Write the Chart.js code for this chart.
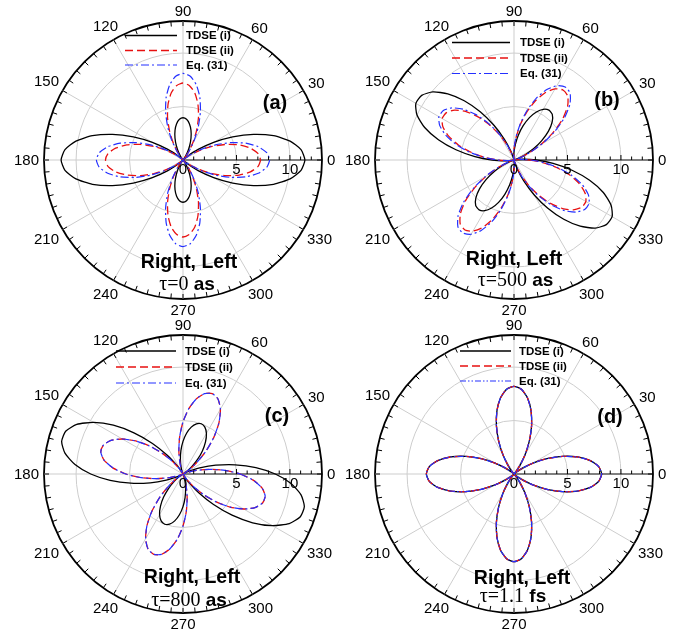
<!DOCTYPE html>
<html>
<head>
<meta charset="utf-8">
<script src="https://cdn.jsdelivr.net/npm/chart.js@4.4.1/dist/chart.umd.min.js"></script>
<style>
  html, body { margin: 0; padding: 0; background: #fff; }
  #fig { position: relative; width: 685px; height: 634px; overflow: hidden; background: #fff; }
  #fig canvas { position: absolute; }
</style>
</head>
<body>
<div id="fig"></div>
<script>
// Polar angles of the samples (degrees, counter-clockwise from the 0 axis)
const sampleAngles = Array.from({ length: 72 }, (_, i) => i * 5);
const angleTicks = [0, 30, 60, 90, 120, 150, 180, 210, 240, 270, 300, 330];
const radialTicks = [0, 5, 10, 13];
const radialLabels = [0, 5, 10];
const seriesNames = ['TDSE (i)', 'TDSE (ii)', 'Eq. (31)'];
const pulseLabel = 'Right, Left';

// (a) tau = 0 as
const tdse1A = [11.4, 11.08, 10.17, 8.77, 7.02, 5.13, 3.31, 1.73, 0.62, 0.05, 0.05, 0.33, 0.83, 1.47, 2.19, 2.88, 3.44, 3.82, 3.95, 3.82, 3.44, 2.88, 2.19, 1.47, 0.83, 0.33, 0.05, 0.05, 0.62, 1.73, 3.31, 5.13, 7.02, 8.77, 10.17, 11.08,
                11.4, 11.08, 10.17, 8.77, 7.02, 5.13, 3.31, 1.73, 0.62, 0.05, 0.05, 0.33, 0.83, 1.47, 2.19, 2.88, 3.44, 3.82, 3.95, 3.82, 3.44, 2.88, 2.19, 1.47, 0.83, 0.33, 0.05, 0.05, 0.62, 1.73, 3.31, 5.13, 7.02, 8.77, 10.17, 11.08];
const tdse2A = [7.25, 7.03, 6.40, 5.44, 4.26, 2.99, 1.81, 0.85, 0.22, 0, 0.22, 0.84, 1.80, 2.97, 4.23, 5.40, 6.36, 6.98, 7.2, 6.98, 6.36, 5.40, 4.23, 2.97, 1.80, 0.84, 0.22, 0, 0.22, 0.85, 1.81, 2.99, 4.26, 5.44, 6.40, 7.03,
                7.25, 7.03, 6.40, 5.44, 4.26, 2.99, 1.81, 0.85, 0.22, 0, 0.22, 0.84, 1.80, 2.97, 4.23, 5.40, 6.36, 6.98, 7.2, 6.98, 6.36, 5.40, 4.23, 2.97, 1.80, 0.84, 0.22, 0, 0.22, 0.85, 1.81, 2.99, 4.26, 5.44, 6.40, 7.03];
const eq31A = [8.1, 7.86, 7.15, 6.08, 4.75, 3.35, 2.03, 0.95, 0.24, 0, 0.24, 0.95, 2.03, 3.35, 4.75, 6.08, 7.15, 7.86, 8.1, 7.86, 7.15, 6.08, 4.75, 3.35, 2.03, 0.95, 0.24, 0, 0.24, 0.95, 2.03, 3.35, 4.75, 6.08, 7.15, 7.86,
               8.1, 7.86, 7.15, 6.08, 4.75, 3.35, 2.03, 0.95, 0.24, 0, 0.24, 0.95, 2.03, 3.35, 4.75, 6.08, 7.15, 7.86, 8.1, 7.86, 7.15, 6.08, 4.75, 3.35, 2.03, 0.95, 0.24, 0, 0.24, 0.95, 2.03, 3.35, 4.75, 6.08, 7.15, 7.86];

// (b) tau = 500 as
const tdse1B = [2.04, 0.81, 0.12, 0.03, 0.40, 1.12, 2.10, 3.17, 4.21, 5.05, 5.57, 5.69, 5.47, 4.96, 4.22, 3.32, 2.38, 1.48, 0.74, 0.23, 0.01, 0.19, 0.94, 2.16, 3.75, 5.51, 7.24, 8.76, 9.90, 10.54, 10.60, 10.02, 8.89, 7.32, 5.51, 3.67,
                2.04, 0.81, 0.12, 0.03, 0.40, 1.12, 2.10, 3.17, 4.21, 5.05, 5.57, 5.69, 5.47, 4.96, 4.22, 3.32, 2.38, 1.48, 0.74, 0.23, 0.01, 0.19, 0.94, 2.16, 3.75, 5.51, 7.24, 8.76, 9.90, 10.54, 10.60, 10.02, 8.89, 7.32, 5.51, 3.67];
const tdse2B = [1.50, 0.59, 0.09, 0.05, 0.56, 1.58, 2.94, 4.46, 5.91, 7.09, 7.82, 7.99, 7.68, 6.97, 5.92, 4.66, 3.34, 2.08, 1.03, 0.32, 0.01, 0.14, 0.69, 1.58, 2.75, 4.03, 5.30, 6.42, 7.25, 7.72, 7.76, 7.34, 6.51, 5.36, 4.03, 2.69,
                1.50, 0.59, 0.09, 0.05, 0.56, 1.58, 2.94, 4.46, 5.91, 7.09, 7.82, 7.99, 7.68, 6.97, 5.92, 4.66, 3.34, 2.08, 1.03, 0.32, 0.01, 0.14, 0.69, 1.58, 2.75, 4.03, 5.30, 6.42, 7.25, 7.72, 7.76, 7.34, 6.51, 5.36, 4.03, 2.69];
const eq31B = [1.56, 0.62, 0.09, 0.05, 0.58, 1.64, 3.07, 4.65, 6.17, 7.40, 8.16, 8.34, 8.02, 7.27, 6.18, 4.87, 3.48, 2.17, 1.08, 0.33, 0.01, 0.15, 0.72, 1.65, 2.87, 4.21, 5.54, 6.71, 7.58, 8.07, 8.11, 7.67, 6.81, 5.60, 4.21, 2.81,
               1.56, 0.62, 0.09, 0.05, 0.58, 1.64, 3.07, 4.65, 6.17, 7.40, 8.16, 8.34, 8.02, 7.27, 6.18, 4.87, 3.48, 2.17, 1.08, 0.33, 0.01, 0.15, 0.72, 1.65, 2.87, 4.21, 5.54, 6.71, 7.58, 8.07, 8.11, 7.67, 6.81, 5.60, 4.21, 2.81];

// (c) tau = 800 as
const tdse1C = [8.63, 6.84, 4.96, 3.17, 1.66, 0.58, 0.13, 0.46, 1.10, 1.92, 2.82, 3.67, 4.38, 4.84, 5.00, 4.86, 4.45, 3.83, 3.05, 2.21, 1.40, 0.72, 0.24, 0.02, 0.16, 0.95, 2.29, 4.04, 5.99, 7.95, 9.66, 10.96, 11.68, 11.75, 11.21, 10.14,
                8.63, 6.84, 4.96, 3.17, 1.66, 0.58, 0.13, 0.46, 1.10, 1.92, 2.82, 3.67, 4.38, 4.84, 5.00, 4.86, 4.45, 3.83, 3.05, 2.21, 1.40, 0.72, 0.24, 0.02, 0.16, 0.95, 2.29, 4.04, 5.99, 7.95, 9.66, 10.96, 11.68, 11.75, 11.21, 10.14];
const tdse2C = [5.34, 3.93, 2.52, 1.30, 0.43, 0.02, 0.13, 0.73, 1.75, 3.06, 4.50, 5.87, 7.00, 7.74, 8.00, 7.78, 7.12, 6.12, 4.87, 3.53, 2.24, 1.14, 0.38, 0.02, 0.11, 0.64, 1.55, 2.74, 4.06, 5.39, 6.55, 7.43, 7.92, 7.96, 7.50, 6.59,
                5.34, 3.93, 2.52, 1.30, 0.43, 0.02, 0.13, 0.73, 1.75, 3.06, 4.50, 5.87, 7.00, 7.74, 8.00, 7.78, 7.12, 6.12, 4.87, 3.53, 2.24, 1.14, 0.38, 0.02, 0.11, 0.64, 1.55, 2.74, 4.06, 5.39, 6.55, 7.43, 7.92, 7.96, 7.50, 6.59];
const eq31C = [5.34, 3.93, 2.52, 1.30, 0.43, 0.02, 0.13, 0.73, 1.75, 3.06, 4.50, 5.87, 7.00, 7.74, 8.00, 7.78, 7.12, 6.12, 4.87, 3.53, 2.24, 1.14, 0.38, 0.02, 0.11, 0.64, 1.55, 2.74, 4.06, 5.39, 6.55, 7.43, 7.92, 7.96, 7.50, 6.59,
               5.34, 3.93, 2.52, 1.30, 0.43, 0.02, 0.13, 0.73, 1.75, 3.06, 4.50, 5.87, 7.00, 7.74, 8.00, 7.78, 7.12, 6.12, 4.87, 3.53, 2.24, 1.14, 0.38, 0.02, 0.11, 0.64, 1.55, 2.74, 4.06, 5.39, 6.55, 7.43, 7.92, 7.96, 7.50, 6.59];

// (d) tau = 1.1 fs
const tdse1D = [8.2, 7.95, 7.24, 6.15, 4.81, 3.39, 2.05, 0.96, 0.25, 0, 0.25, 0.96, 2.05, 3.39, 4.81, 6.15, 7.24, 7.95, 8.2, 7.95, 7.24, 6.15, 4.81, 3.39, 2.05, 0.96, 0.25, 0, 0.25, 0.96, 2.05, 3.39, 4.81, 6.15, 7.24, 7.95,
                8.2, 7.95, 7.24, 6.15, 4.81, 3.39, 2.05, 0.96, 0.25, 0, 0.25, 0.96, 2.05, 3.39, 4.81, 6.15, 7.24, 7.95, 8.2, 7.95, 7.24, 6.15, 4.81, 3.39, 2.05, 0.96, 0.25, 0, 0.25, 0.96, 2.05, 3.39, 4.81, 6.15, 7.24, 7.95];
const tdse2D = [8.2, 7.95, 7.24, 6.15, 4.81, 3.39, 2.05, 0.96, 0.25, 0, 0.25, 0.96, 2.05, 3.39, 4.81, 6.15, 7.24, 7.95, 8.2, 7.95, 7.24, 6.15, 4.81, 3.39, 2.05, 0.96, 0.25, 0, 0.25, 0.96, 2.05, 3.39, 4.81, 6.15, 7.24, 7.95,
                8.2, 7.95, 7.24, 6.15, 4.81, 3.39, 2.05, 0.96, 0.25, 0, 0.25, 0.96, 2.05, 3.39, 4.81, 6.15, 7.24, 7.95, 8.2, 7.95, 7.24, 6.15, 4.81, 3.39, 2.05, 0.96, 0.25, 0, 0.25, 0.96, 2.05, 3.39, 4.81, 6.15, 7.24, 7.95];
const eq31D = [8.2, 7.95, 7.24, 6.15, 4.81, 3.39, 2.05, 0.96, 0.25, 0, 0.25, 0.96, 2.05, 3.39, 4.81, 6.15, 7.24, 7.95, 8.2, 7.95, 7.24, 6.15, 4.81, 3.39, 2.05, 0.96, 0.25, 0, 0.25, 0.96, 2.05, 3.39, 4.81, 6.15, 7.24, 7.95,
               8.2, 7.95, 7.24, 6.15, 4.81, 3.39, 2.05, 0.96, 0.25, 0, 0.25, 0.96, 2.05, 3.39, 4.81, 6.15, 7.24, 7.95, 8.2, 7.95, 7.24, 6.15, 4.81, 3.39, 2.05, 0.96, 0.25, 0, 0.25, 0.96, 2.05, 3.39, 4.81, 6.15, 7.24, 7.95];

const SANS = '"Liberation Sans", Arial, Helvetica, sans-serif';
const SERIF = '"Liberation Serif", "Times New Roman", serif';
const GRID_GRAY = '#cdcdcd';

// line styles of the three series
const seriesStyles = [
  { color: '#000000', width: 1.3, dash: [] },
  { color: '#e81010', width: 1.3, dash: [8, 4] },
  { color: '#2430ff', width: 1.2, dash: [8, 3, 2, 3] }
];

// panel frames: canvas placement, circle centre (local px) and text offsets
const OUTER_R = 139;
const panels = [
  { tag: '(a)', tau: '0', unit: 'as', left: 0, top: 0, cx: 183, cy: 160,
    series: [tdse1A, tdse2A, eq31A],
    legend: { x1: -58, x2: -6, tx: 3, rows: [-124.5, -109.5, -95] },
    tagAt: [92, -57], titleAt: [6, 108], tauAt: [4, 130] },
  { tag: '(b)', tau: '500', unit: 'as', left: 342, top: 0, cx: 172, cy: 160,
    series: [tdse1B, tdse2B, eq31B],
    legend: { x1: -62, x2: -4, tx: 6, rows: [-117.5, -102, -86.5] },
    tagAt: [93, -60], titleAt: [0, 105], tauAt: [1.5, 126] },
  { tag: '(c)', tau: '800', unit: 'as', left: 0, top: 317, cx: 183, cy: 157,
    series: [tdse1C, tdse2C, eq31C],
    legend: { x1: -67, x2: -7, tx: 2, rows: [-123, -107, -91] },
    tagAt: [94, -58], titleAt: [9, 109], tauAt: [6, 132] },
  { tag: '(d)', tau: '1.1', unit: 'fs', left: 342, top: 317, cx: 172, cy: 157,
    series: [tdse1D, tdse2D, eq31D],
    legend: { x1: -54, x2: -3, tx: 5, rows: [-123, -108, -93] },
    tagAt: [96, -57], titleAt: [8, 110], tauAt: [-1, 128],
    blueDash: [6, 2, 1.5, 2, 1.5, 2] }
];

const CANVAS_W = 343, CANVAS_H = 317;

// radar indices run clockwise from the start angle; reorder so angles increase counter-clockwise
const toClockwise = arr => arr.map((_, i) => arr[(arr.length - i) % arr.length]);
const chartLabels = toClockwise(sampleAngles).map(String);

const dashFor = (p, i) => (i === 2 && p.blueDash) ? p.blueDash : seriesStyles[i].dash;

// rim ticks, axis ticks, angle labels, legend and annotations
const polarDecor = {
  id: 'polarDecor',
  afterDatasetsDraw(chart, args, o) {
    const s = chart.scales.r;
    const ctx = chart.ctx;
    const cx = s.xCenter, cy = s.yCenter;
    const R = s.getDistanceFromCenterForValue(s.max);
    ctx.save();
    ctx.setLineDash([]);
    ctx.strokeStyle = '#000';
    ctx.lineWidth = 1;

    // ticks on the rim every 5 degrees
    for (let a = 0; a < 360; a += 5) {
      const t = a * Math.PI / 180, c = Math.cos(t), sn = Math.sin(t);
      ctx.beginPath();
      ctx.moveTo(cx + c * R, cy - sn * R);
      ctx.lineTo(cx + c * (R - 5), cy - sn * (R - 5));
      ctx.stroke();
    }
    // ticks along the 0-degree radius
    for (let v = 1; v < s.max; v++) {
      const x = cx + s.getDistanceFromCenterForValue(v);
      const len = v % 5 === 0 ? 5 : 3.5;
      ctx.beginPath();
      ctx.moveTo(x, cy);
      ctx.lineTo(x, cy - len);
      ctx.stroke();
    }

    ctx.fillStyle = '#000';
    ctx.font = '15px ' + SANS;
    ctx.textAlign = 'center';
    ctx.textBaseline = 'top';
    radialLabels.forEach(v => {
      ctx.fillText(String(v), cx + s.getDistanceFromCenterForValue(v), cy + 2);
    });

    // angle labels around the rim
    ctx.textBaseline = 'middle';
    angleTicks.forEach(a => {
      const t = a * Math.PI / 180, c = Math.cos(t), sn = Math.sin(t);
      const txt = String(a);
      const w = ctx.measureText(txt).width, h = 11;
      const d = R + 5 + Math.abs(c) * w / 2 + Math.abs(sn) * h / 2;
      ctx.fillText(txt, cx + c * d, cy - sn * d + 1);
    });

    // legend
    const lg = o.legend;
    ctx.font = 'bold 11.5px ' + SANS;
    ctx.textAlign = 'left';
    seriesNames.forEach((name, i) => {
      const st = seriesStyles[i];
      const y = cy + lg.rows[i];
      ctx.save();
      ctx.strokeStyle = st.color;
      ctx.lineWidth = st.width;
      ctx.setLineDash(dashFor(o, i));
      ctx.beginPath();
      ctx.moveTo(cx + lg.x1, y);
      ctx.lineTo(cx + lg.x2, y);
      ctx.stroke();
      ctx.restore();
      ctx.fillStyle = '#000';
      ctx.fillText(name, cx + lg.tx, y + 0.5);
    });

    // panel tag
    ctx.textAlign = 'center';
    ctx.font = 'bold 20px ' + SANS;
    ctx.fillText(o.tag, cx + o.tagAt[0], cy + o.tagAt[1]);

    // pulse description
    ctx.textBaseline = 'alphabetic';
    ctx.font = 'bold 19.5px ' + SANS;
    ctx.fillText(pulseLabel, cx + o.titleAt[0], cy + o.titleAt[1]);

    const p1 = '\u03C4=' + o.tau, p2 = ' ' + o.unit;
    ctx.font = '20px ' + SERIF;
    const w1 = ctx.measureText(p1).width;
    ctx.font = 'bold 19px ' + SANS;
    const w2 = ctx.measureText(p2).width;
    const x0 = cx + o.tauAt[0] - (w1 + w2) / 2;
    ctx.textAlign = 'left';
    ctx.font = '20px ' + SERIF;
    ctx.fillText(p1, x0, cy + o.tauAt[1]);
    ctx.font = 'bold 19px ' + SANS;
    ctx.fillText(p2, x0 + w1, cy + o.tauAt[1]);
    ctx.restore();
  }
};

const fig = document.getElementById('fig');
panels.forEach(p => {
  const cv = document.createElement('canvas');
  cv.width = CANVAS_W;
  cv.height = CANVAS_H;
  cv.style.left = p.left + 'px';
  cv.style.top = p.top + 'px';
  cv.style.width = CANVAS_W + 'px';
  cv.style.height = CANVAS_H + 'px';
  fig.appendChild(cv);

  const datasets = p.series.map((vals, i) => {
    const st = seriesStyles[i];
    return {
      label: seriesNames[i],
      data: toClockwise(vals),
      borderColor: st.color,
      borderWidth: st.width,
      borderDash: dashFor(p, i),
      fill: false,
      pointRadius: 0,
      pointHitRadius: 0,
      tension: 0.2,
      order: 3 - i
    };
  });

  new Chart(cv, {
    type: 'radar',
    data: { labels: chartLabels, datasets },
    options: {
      responsive: false,
      animation: false,
      devicePixelRatio: 1,
      layout: {
        padding: {
          left: p.cx - OUTER_R,
          right: CANVAS_W - p.cx - OUTER_R,
          top: p.cy - OUTER_R,
          bottom: CANVAS_H - p.cy - OUTER_R
        }
      },
      plugins: {
        legend: { display: false },
        tooltip: { enabled: false },
        polarDecor: p
      },
      scales: {
        r: {
          min: 0,
          max: 13,
          startAngle: 90,
          afterBuildTicks: scale => { scale.ticks = radialTicks.map(v => ({ value: v })); },
          ticks: { display: false },
          grid: {
            circular: true,
            color: ctx => ctx.tick && ctx.tick.value === 13 ? '#000' : GRID_GRAY,
            lineWidth: ctx => ctx.tick && ctx.tick.value === 13 ? 1.8 : 1
          },
          angleLines: {
            display: true,
            color: ctx => ctx.label === '0' ? '#000' : GRID_GRAY,
            lineWidth: ctx => (Number(ctx.label) % 30 === 0) ? 1 : 0
          },
          pointLabels: { display: false }
        }
      }
    },
    plugins: [polarDecor]
  });
});
</script>
</body>
</html>
